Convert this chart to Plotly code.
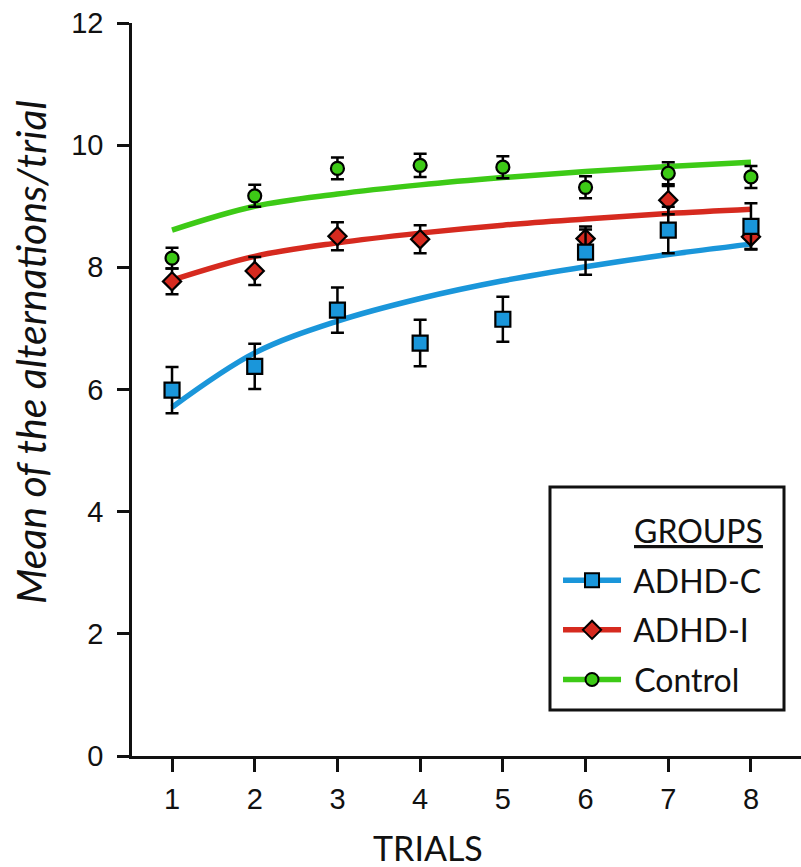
import plotly.graph_objects as go

# ---- data ----
trials = [1, 2, 3, 4, 5, 6, 7, 8]

adhd_c = [5.99, 6.38, 7.30, 6.76, 7.15, 8.25, 8.61, 8.67]
adhd_c_err = [0.38, 0.37, 0.37, 0.38, 0.37, 0.37, 0.38, 0.38]

adhd_i = [7.77, 7.94, 8.51, 8.46, None, 8.47, 9.10, 8.50]
adhd_i_err = [0.21, 0.23, 0.23, 0.23, None, 0.20, 0.23, 0.20]

control = [8.15, 9.17, 9.62, 9.67, 9.64, 9.31, 9.54, 9.48]
control_err = [0.17, 0.18, 0.18, 0.19, 0.18, 0.18, 0.18, 0.18]

# fitted trend curves (values read at each trial)
fit_c = [5.71, 6.60, 7.12, 7.49, 7.78, 8.01, 8.21, 8.38]
fit_i = [7.79, 8.18, 8.40, 8.56, 8.69, 8.79, 8.88, 8.95]
fit_ctrl = [8.61, 9.00, 9.20, 9.35, 9.47, 9.57, 9.65, 9.72]

group_names = ["ADHD-C", "ADHD-I", "Control"]
x_ticks = [1, 2, 3, 4, 5, 6, 7, 8]
y_ticks = [0, 2, 4, 6, 8, 10, 12]

BLUE = "#1A96DA"
RED = "#D62A1F"
GREEN = "#3DCA16"

fig = go.Figure()

# fit lines
for fit, col in [(fit_ctrl, GREEN), (fit_i, RED), (fit_c, BLUE)]:
    fig.add_trace(go.Scatter(x=trials, y=fit, mode="lines",
                             line=dict(color=col, width=5.5, shape="spline", smoothing=1.0),
                             showlegend=False, hoverinfo="skip"))

# points with error bars (control, ADHD-I, ADHD-C on top)
series = [
    (control, control_err, GREEN, "circle", 13),
    (adhd_i, adhd_i_err, RED, "diamond", 14),
    (adhd_c, adhd_c_err, BLUE, "square", 15),
]
for vals, err, col, sym, sz in series:
    fig.add_trace(go.Scatter(
        x=trials, y=vals, mode="markers",
        marker=dict(symbol=sym, size=sz, color=col, line=dict(color="black", width=2.2)),
        error_y=dict(type="data", array=err, visible=True, color="black", thickness=2.5, width=6.5),
        showlegend=False))

# legend entries
leg = [(group_names[0], BLUE, "square", 14, "a"),
       (group_names[1], RED, "diamond", 14, "b"),
       (group_names[2], GREEN, "circle", 13, "c")]
for name, col, sym, sz, grp in leg:
    fig.add_trace(go.Scatter(
        x=[None], y=[None], mode="lines+markers", name="\u00a0" + name,
        legendgroup=grp,
        line=dict(color=col, width=5.5),
        marker=dict(symbol=sym, size=sz, color=col, line=dict(color="black", width=2))))

calibri = "Lato, 'Open Sans', sans-serif"
arial = "'Liberation Sans', Arial, sans-serif"
INK = "#111"

fig.update_layout(
    width=801, height=867,
    margin=dict(l=132, r=0, t=23, b=111),
    paper_bgcolor="white", plot_bgcolor="white",
    showlegend=True,
    legend=dict(
        x=0.6368, y=0.277, xanchor="left", yanchor="top",
        borderwidth=0, bgcolor="rgba(0,0,0,0)",
        font=dict(family=calibri, size=32, color=INK),
        tracegroupgap=5, itemwidth=58, traceorder="grouped",
    ),
    xaxis=dict(
        range=[0.516, 8.605], tickvals=x_ticks, ticks="outside", ticklen=13, tickwidth=2.5,
        tickcolor=INK, showline=True, linecolor=INK, linewidth=2.5, showgrid=False,
        zeroline=False, tickfont=dict(family=arial, size=29, color=INK),
        ticklabelstandoff=2,
    ),
    yaxis=dict(
        range=[0, 12], tickvals=y_ticks, ticks="outside", ticklen=12, tickwidth=2.5,
        tickcolor=INK, showline=True, linecolor=INK, linewidth=2.5, showgrid=False,
        zeroline=False, tickfont=dict(family=arial, size=29, color=INK),
        ticklabelstandoff=8,
    ),
    shapes=[dict(type="rect", xref="paper", yref="paper",
                 x0=0.6248, x1=0.9746, y0=0.0628, y1=0.367,
                 line=dict(color=INK, width=3), fillcolor="rgba(0,0,0,0)", layer="above")],
    annotations=[
        dict(text="<i>Mean of the alternations/trial</i>", textangle=-90,
             xref="paper", yref="paper", x=-0.1525, y=0.551, xanchor="center", yanchor="middle",
             showarrow=False, font=dict(family=calibri, size=41, color=INK)),
        dict(text="TRIALS", xref="paper", yref="paper", x=0.4425, y=-0.1255,
             xanchor="center", yanchor="middle", showarrow=False,
             font=dict(family=calibri, size=34, color=INK)),
        dict(text="<u>GROUPS</u>", xref="paper", yref="paper", x=0.7474, y=0.3083,
             xanchor="left", yanchor="middle", showarrow=False,
             font=dict(family=calibri, size=32, color=INK)),
    ],
)

fig.write_html("out.html")
